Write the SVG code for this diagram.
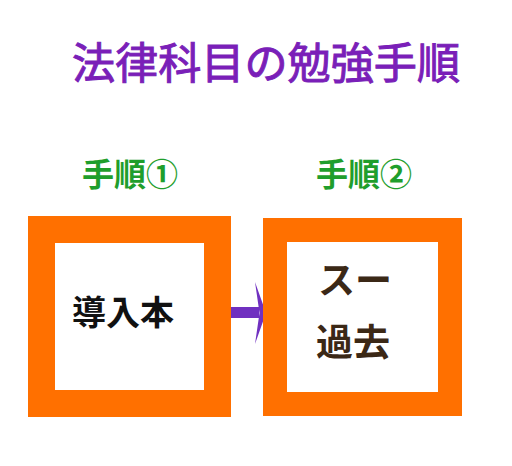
<svg xmlns="http://www.w3.org/2000/svg" width="512" height="466" viewBox="0 0 512 466">
<style>
.title{font-family:"Noto Sans CJK JP","Noto Sans CJK SC",sans-serif;font-size:43px;fill:#7a1fb8;stroke:#7a1fb8;stroke-width:1}
.step{font-family:"Noto Sans CJK JP","Noto Sans CJK SC",sans-serif;font-size:32px;font-weight:bold;fill:#1f9e2c}
.box{fill:#ffffff;stroke:#ff6f00;filter:url(#soft)}
.lbl1{font-family:"Noto Sans CJK JP","Noto Sans CJK SC",sans-serif;font-size:34px;font-weight:bold;fill:#111111}
.lbl2{font-family:"Noto Sans CJK JP","Noto Sans CJK SC",sans-serif;font-size:37px;font-weight:bold;fill:#3b2816}
</style>
<defs>
<filter id="soft" x="-10%" y="-10%" width="120%" height="120%"><feGaussianBlur stdDeviation="0.6"/></filter>
</defs>
<rect width="512" height="466" fill="#ffffff"/>
<text class="title" x="72" y="79" textLength="388" lengthAdjust="spacingAndGlyphs">法律科目の勉強手順</text>
<text class="step" x="82" y="186">手順①</text>
<text class="step" x="316" y="186">手順②</text>
<g id="connectors">
<rect x="229" y="307" width="30" height="11" fill="#7030c0"/>
<polygon points="255,282 266,313 255,344 259.5,313" fill="#7030c0"/>
</g>
<g id="node1">
<rect class="box" x="41.5" y="229.5" width="176" height="174" stroke-width="27"/>
<text class="lbl1" x="123" y="325" text-anchor="middle">導入本</text>
</g>
<g id="node2">
<rect class="box" x="275" y="230" width="175" height="174" stroke-width="24"/>
<text class="lbl2" x="318" y="294">スー</text>
<text class="lbl2" x="316" y="356">過去</text>
</g>
</svg>
